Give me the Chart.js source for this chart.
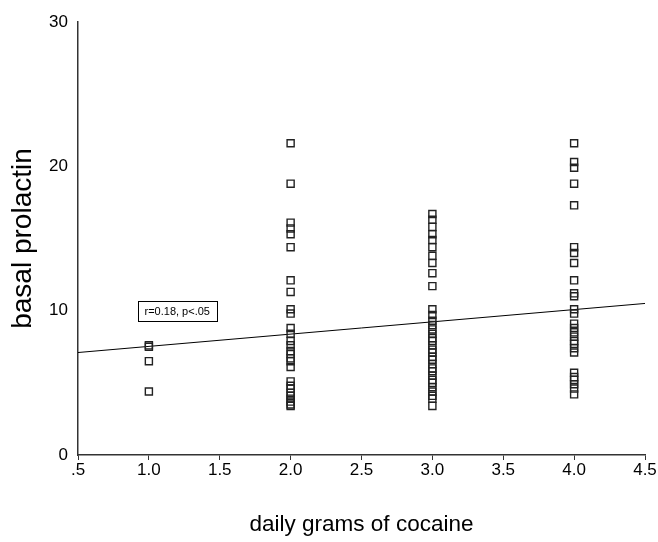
<!DOCTYPE html>
<html>
<head>
<meta charset="utf-8">
<script src="https://cdn.jsdelivr.net/npm/chart.js@4/dist/chart.umd.min.js"></script>
<style>
html,body{margin:0;padding:0;background:#fff;}
#wrap{width:658px;height:542px;position:relative;}
</style>
</head>
<body>
<div id="wrap"><canvas id="c" width="658" height="542"></canvas></div>
<script>
// Daily grams of cocaine groups and basal prolactin values
const dose1 = [7.6, 7.5, 6.5, 4.4];
const dose2 = [21.6, 18.8, 16.1, 15.7, 15.3, 14.4, 12.1, 11.3, 10.1, 9.8, 8.8, 8.4, 7.9, 7.6, 7.2, 7.0, 6.7, 6.5, 6.1, 5.1, 4.8, 4.6, 4.3, 4.1, 3.9, 3.7, 3.5, 3.4];
const dose3 = [16.7, 16.3, 15.8, 15.3, 14.9, 14.4, 13.8, 13.3, 12.6, 11.7, 10.1, 9.7, 9.3, 9.0, 8.7, 8.4, 8.1, 7.9, 7.6, 7.3, 7.1, 6.8, 6.6, 6.3, 6.0, 5.8, 5.5, 5.2, 5.0, 4.7, 4.4, 4.1, 3.9, 3.4];
const dose4 = [21.6, 20.3, 19.9, 18.8, 17.3, 14.4, 14.0, 13.3, 12.1, 11.2, 11.0, 10.1, 9.8, 9.1, 8.8, 8.5, 8.2, 7.9, 7.7, 7.4, 7.1, 5.7, 5.4, 5.2, 4.9, 4.6, 4.2];
const doseLevels = [1, 2, 3, 4];
const fitX = [0.5, 4.5];
const fitY = [7.1, 10.5];
const xTicks = [0.5, 1.0, 1.5, 2.0, 2.5, 3.0, 3.5, 4.0, 4.5];
const yTicks = [0, 10, 20, 30];
const annotationText = 'r=0.18, p<.05';
const annotationPos = {x: 1.2, y: 10.0};
const xTitle = 'daily grams of cocaine';
const yTitle = 'basal prolactin';

const groups = [dose1, dose2, dose3, dose4];
const scatterPoints = [];
groups.forEach((vals, i) => vals.forEach(v => scatterPoints.push({x: doseLevels[i], y: v})));
const fitPoints = fitX.map((x, i) => ({x: x, y: fitY[i]}));

const FONT = "'Liberation Sans', Arial, sans-serif";

const annotationPlugin = {
  id: 'annot',
  afterDatasetsDraw(chart) {
    const ctx = chart.ctx;
    const xs = chart.scales.x, ys = chart.scales.y;
    const cx = xs.getPixelForValue(annotationPos.x);
    const cy = ys.getPixelForValue(annotationPos.y);
    ctx.save();
    ctx.font = "11px " + FONT;
    const w = ctx.measureText(annotationText).width + 14;
    const h = 20;
    ctx.fillStyle = '#fff';
    ctx.fillRect(cx - w / 2, cy - h / 2, w, h);
    ctx.strokeStyle = '#000';
    ctx.lineWidth = 1;
    ctx.strokeRect(Math.round(cx - w / 2) + 0.5, Math.round(cy - h / 2) + 0.5, Math.round(w), h);
    ctx.fillStyle = '#000';
    ctx.textAlign = 'center';
    ctx.textBaseline = 'middle';
    ctx.fillText(annotationText, cx, cy + 1);
    ctx.restore();
  }
};

new Chart(document.getElementById('c'), {
  type: 'scatter',
  data: {
    datasets: [
      {
        type: 'line',
        data: fitPoints,
        borderColor: '#000',
        borderWidth: 1,
        pointRadius: 0,
        fill: false,
        order: 2
      },
      {
        data: scatterPoints,
        pointStyle: 'rect',
        pointRadius: 5,
        pointHoverRadius: 5,
        borderColor: '#222',
        borderWidth: 1.4,
        backgroundColor: 'rgba(255,255,255,0)',
        order: 1
      }
    ]
  },
  options: {
    responsive: false,
    animation: false,
    events: [],
    layout: {padding: {left: 0, right: 13, top: 22, bottom: 4}},
    plugins: {legend: {display: false}, tooltip: {enabled: false}},
    scales: {
      x: {
        type: 'linear',
        min: 0.5, max: 4.5,
        afterBuildTicks(s) { s.ticks = xTicks.map(v => ({value: v})); },
        afterFit(s) { s.height = 83; },
        grid: {display: true, drawOnChartArea: false, drawTicks: true, tickLength: 5, color: '#333', lineWidth: 1},
        border: {display: true, color: '#333', width: 1.5},
        ticks: {
          color: '#000', padding: 0, maxRotation: 0, autoSkip: false,
          font: {family: FONT, size: 17},
          callback(v) { return v === 0.5 ? '.5' : Number(v).toFixed(1); }
        },
        title: {display: true, text: xTitle, color: '#000', font: {family: FONT, size: 22.5}, padding: {top: 0, bottom: 0}}
      },
      y: {
        type: 'linear',
        min: 0, max: 30,
        afterBuildTicks(s) { s.ticks = yTicks.map(v => ({value: v})); },
        afterFit(s) { s.width = 78; },
        grid: {display: false, drawTicks: false},
        border: {display: true, color: '#333', width: 1.5},
        ticks: {
          color: '#000', padding: 10,
          font: {family: FONT, size: 17}
        },
        title: {display: true, text: yTitle, color: '#000', font: {family: FONT, size: 28}, padding: {top: 6, bottom: 0}}
      }
    }
  },
  plugins: [annotationPlugin]
});
</script>
</body>
</html>
